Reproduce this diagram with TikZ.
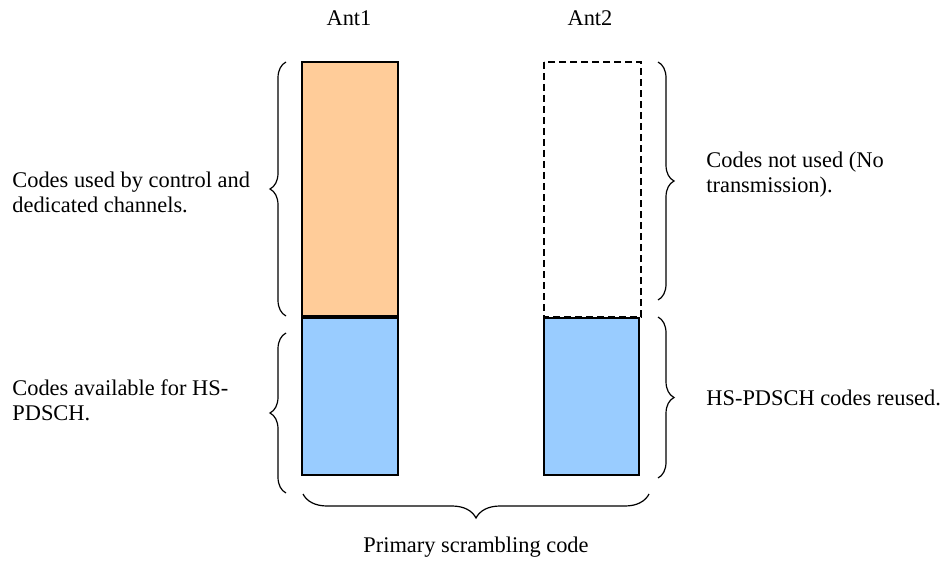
\documentclass[tikz,border=0pt]{standalone}
\usepackage{fontspec}
\setmainfont{Liberation Serif}
\usetikzlibrary{decorations.pathreplacing,positioning}
\definecolor{codeorange}{RGB}{255,204,153}
\definecolor{codeblue}{RGB}{153,204,255}

\begin{document}
\begin{tikzpicture}[x=0.5pt,y=-0.5pt,
  every node/.style={inner sep=0pt,font=\fontsize{11.2}{12.6}\selectfont},
  lbl/.style={align=left,anchor=west},
  brc/.style={decorate,decoration={brace,amplitude=8pt},line width=0.6pt}]
\useasboundingbox (0,0) rectangle (940,561);
% columns
\draw[fill=codeorange, line width=0.7pt] (302,62) rectangle (398,316);
\draw[fill=codeblue, line width=0.7pt] (302,318) rectangle (398,475);
\draw[dashed, dash pattern=on 3.5pt off 2pt, line width=0.8pt] (544,62) rectangle (641,317);
\draw[fill=codeblue, line width=0.7pt] (544,318) rectangle (639,475);
\draw (349,18) node (ant1) {Ant1};
\draw (590,18) node (ant2) {Ant2};
% braces
\coordinate (bl1) at (286,316); \coordinate (tl1) at (286,62);
\coordinate (bl2) at (286,493); \coordinate (tl2) at (286,333);
\coordinate (tr1) at (658,62);  \coordinate (br1) at (658,300);
\coordinate (tr2) at (658,317); \coordinate (br2) at (658,478);
\coordinate (rb) at (649,494);  \coordinate (lb) at (303,494);
\draw[brc] (bl1)--(tl1);
\draw[brc] (bl2)--(tl2);
\draw[brc] (tr1)--(br1);
\draw[brc] (tr2)--(br2);
\draw[brc, decoration={amplitude=12pt}] (rb)--(lb);
% labels
\draw (12,192) node[lbl] (ctrl) {Codes used by control and\\dedicated channels.};
\draw (12,400) node[lbl] (avail) {Codes available for HS-\\PDSCH.};
\draw (706,175) node[lbl] (unused) {Codes not used (No\\transmission).};
\draw (706,398) node[lbl] (reused) {HS-PDSCH codes reused.};
\draw (476,547) node (psc) {Primary scrambling code};
\end{tikzpicture}
\end{document}
